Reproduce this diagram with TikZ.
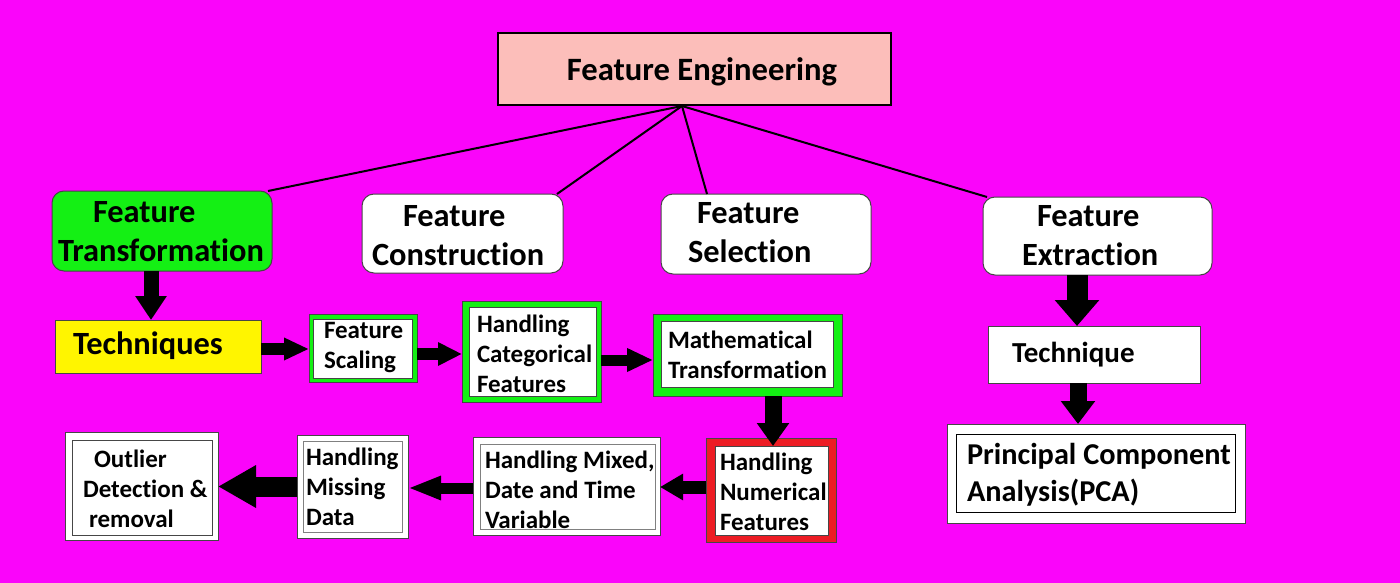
\documentclass[tikz,border=0pt]{standalone}
\usepackage{fontspec}
\setmainfont{Carlito}[Ligatures={NoCommon}]
\usetikzlibrary{arrows.meta}
\definecolor{bgmag}{RGB}{250,5,250}
\definecolor{pinkbox}{RGB}{252,190,186}
\definecolor{limegreen}{RGB}{20,240,20}
\definecolor{yelbox}{RGB}{255,245,0}
\definecolor{redbox}{RGB}{237,28,36}
\definecolor{edgegray}{RGB}{70,70,70}
\newcommand\fsz[2]{\fontsize{#1}{#2}\selectfont\bfseries}
\begin{document}
\begin{tikzpicture}[x=1pt,y=-1pt,
  box/.style={draw=edgegray, line width=1pt, inner sep=0pt, outer sep=0pt, fill=white},
  rbox/.style={box, rounded corners=12pt},
  lbl/.style={inner sep=0pt, outer sep=0pt, align=left, anchor=west, text=black},
  big/.style={font=\fsz{32.4}{39}},
  small/.style={font=\fsz{25}{30}},
  barrow/.style n args={3}{draw=black, line width=#1, -{Triangle[length=#2,width=#3]}},
  link/.style={draw=black, line width=2pt}
]
\useasboundingbox (0,0) rectangle (1400,583);
\fill[bgmag] (0,0) rectangle (1400,583);

% top box
\node[box, fill=pinkbox, draw=black, line width=2.5pt, minimum width=393pt, minimum height=72pt] (fe) at (694.5,69) {};
\node[inner sep=0pt, font=\fsz{32.6}{36}] (tfe) at (702,72) {Feature Engineering};

% second level
\node[rbox, fill=limegreen, minimum width=220pt, minimum height=80pt] (ft) at (162,231) {};
\node[rbox, minimum width=201pt, minimum height=79pt] (fc) at (462.5,233.5) {};
\node[rbox, minimum width=210pt, minimum height=80pt] (fs) at (766,234) {};
\node[rbox, minimum width=229pt, minimum height=78pt] (fx) at (1097.5,236) {};
\node[lbl, big] (tft) at (58,232) {\hspace*{35pt}Feature\\Transformation};
\node[lbl, big] (tfc) at (372,236) {\hspace*{31pt}Feature\\Construction};
\node[lbl, big] (tfs) at (688,233) {\hspace*{9pt}Feature\\Selection};
\node[lbl, big] (tfx) at (1022,236) {\hspace*{15pt}Feature\\Extraction};

\coordinate (hub) at (682,106);
\draw[link] (hub) -- ([xshift=-4pt]ft.north east);
\draw[link] (hub) -- ([xshift=-6pt]fc.north east);
\draw[link] (hub) -- ([xshift=46pt]fs.north west);
\draw[link] (hub) -- ([xshift=4pt]fx.north west);

% techniques row
\node[box, fill=yelbox, minimum width=206pt, minimum height=53pt] (tq) at (158,346.5) {};
\node[lbl, font=\fsz{32.4}{36}] (ttq) at (73,346) {Techniques};

\node[box, fill=limegreen, minimum width=108pt, minimum height=68pt] (sc) at (363,348) {};
\node[box, minimum width=99pt, minimum height=59pt] (sci) at (362.5,348.5) {};
\node[lbl, small] (tsc) at (324,347.5) {Feature\\Scaling};

\node[box, fill=limegreen, minimum width=139pt, minimum height=101pt] (hc) at (531.5,351.5) {};
\node[box, minimum width=127pt, minimum height=89pt] (hci) at (532.5,351.5) {};
\node[lbl, small] (thc) at (477,354) {Handling\\Categorical\\Features};

\node[box, fill=limegreen, minimum width=189pt, minimum height=82pt] (mt) at (747.5,355) {};
\node[box, minimum width=172pt, minimum height=66pt] (mti) at (747,354) {};
\node[lbl, small] (tmt) at (668,355) {Mathematical\\Transformation};

% bottom row
\node[box, fill=redbox, minimum width=130pt, minimum height=104pt] (hn) at (771,490) {};
\node[box, minimum width=113pt, minimum height=89pt] (hni) at (771.5,490.5) {};
\node[lbl, small] (thn) at (720,492) {Handling\\Numerical\\Features};

\node[box, minimum width=187pt, minimum height=98pt] (hm) at (566.5,486) {};
\node[box, draw=gray, minimum width=175pt, minimum height=85pt] (hmi) at (567.5,486.5) {};
\node[lbl, small] (thm) at (485,490) {Handling Mixed,\\Date and Time\\Variable};

\node[box, minimum width=111pt, minimum height=103pt] (hs) at (352.5,486.5) {};
\node[box, draw=gray, minimum width=99pt, minimum height=91pt] (hsi) at (352.5,486.5) {};
\node[lbl, small] (ths) at (306,487) {Handling\\Missing\\Data};

\node[box, minimum width=153pt, minimum height=108pt] (ol) at (141.5,486) {};
\node[box, minimum width=140pt, minimum height=95pt] (oli) at (142,487.5) {};
\node[lbl, small] (tol) at (83,489) {\hspace*{11pt}Outlier\\Detection \&\\\hspace*{6pt}removal};

% extraction branch
\node[box, draw=edgegray, minimum width=212pt, minimum height=57pt] (tc) at (1094,354.5) {};
\node[lbl, font=\fsz{29}{32}] (ttc) at (1012,355) {Technique};

\node[box, minimum width=298pt, minimum height=99pt] (pca) at (1096,473.5) {};
\node[box, draw=black, minimum width=279pt, minimum height=78pt] (pcai) at (1095.5,473) {};
\node[lbl, font=\fsz{30.3}{37}] (tpca) at (967,474.5) {Principal Component\\Analysis(PCA)};

% block arrows
\draw[barrow={15pt}{24pt}{30pt}] ([xshift=-11pt]ft.south) -- ([xshift=-11pt]ft.south |- tq.north);
\draw[barrow={12pt}{25pt}{21pt}] ([yshift=-2.5pt]tq.east) -- ([yshift=-2.5pt]tq.east -| sc.west);
\draw[barrow={12pt}{24pt}{22pt}] ([yshift=-6pt]sc.east) -- ([yshift=-6pt]sc.east -| hc.west);
\draw[barrow={11pt}{26pt}{22pt}] ([yshift=-8.5pt]hc.east) -- ([yshift=-8.5pt]hc.east -| mt.west);
\draw[barrow={17pt}{23pt}{31pt}] ([xshift=25.5pt]mt.south) -- ([xshift=25.5pt]mt.south |- hni.north);
\draw[barrow={13pt}{23pt}{25pt}] ([yshift=3pt]hn.west) -- ([yshift=3pt]hn.west -| hm.east);
\draw[barrow={11pt}{33pt}{22pt}] ([yshift=-2pt]hm.west) -- ([yshift=-2pt]hm.west -| hs.east);
\draw[barrow={20pt}{38pt}{40pt}] (hs.west) -- (hs.west -| ol.east);
\draw[barrow={21pt}{26pt}{43pt}] ([xshift=-20.5pt]fx.south) -- ([xshift=-20.5pt]fx.south |- tc.north);
\draw[barrow={17pt}{23pt}{33pt}] ([xshift=-16pt]tc.south) -- ([xshift=-16pt]tc.south |- pca.north);
\end{tikzpicture}
\end{document}
